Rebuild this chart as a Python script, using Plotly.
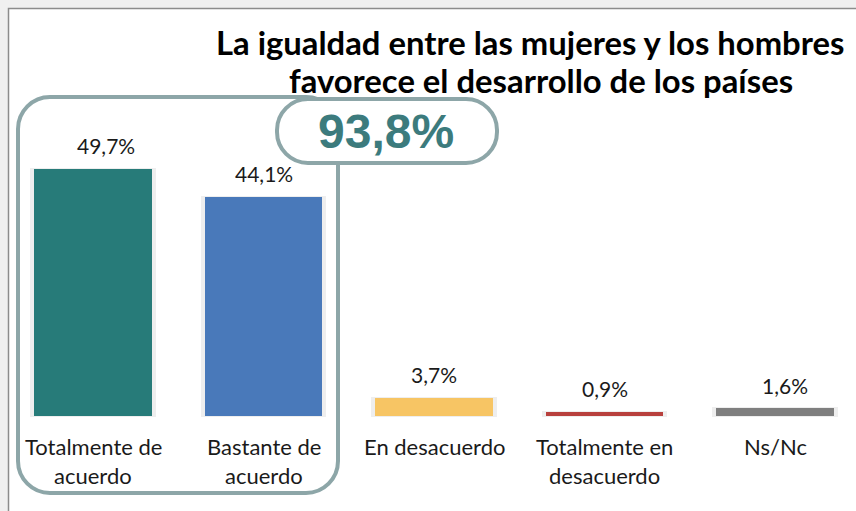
import plotly.graph_objects as go

# ---- data ----
categories = ["Totalmente de<br>acuerdo", "Bastante de<br>acuerdo", "En desacuerdo",
              "Totalmente en<br>desacuerdo", "Ns/Nc"]
values = [49.7, 44.1, 3.7, 0.9, 1.6]
bar_colors = ["#277B79", "#4979BA", "#F7C564", "#B8403D", "#7F7F7F"]
title_lines = ["La igualdad entre las mujeres y los hombres", "favorece el desarrollo de los países"]
label_xshift = [13, 0, 0, 0, 10]

W, H = 856, 511


def PX(x):
    return x / W


def PY(y):
    return 1 - y / H


def fmt(v):
    return f"{v:.1f}".replace(".", ",") + "%"


def rounded_rect(x0, y0, x1, y1, r):
    k = 0.5523 * r
    pts = [
        ("M", [(x0 + r, y0)]),
        ("L", [(x1 - r, y0)]),
        ("C", [(x1 - r + k, y0), (x1, y0 + r - k), (x1, y0 + r)]),
        ("L", [(x1, y1 - r)]),
        ("C", [(x1, y1 - r + k), (x1 - r + k, y1), (x1 - r, y1)]),
        ("L", [(x0 + r, y1)]),
        ("C", [(x0 + r - k, y1), (x0, y1 - r + k), (x0, y1 - r)]),
        ("L", [(x0, y0 + r)]),
        ("C", [(x0, y0 + r - k), (x0 + r - k, y0), (x0 + r, y0)]),
    ]
    s = ""
    for cmd, ps in pts:
        s += cmd + " " + " ".join(f"{PX(a):.5f},{PY(b):.5f}" for a, b in ps) + " "
    return s + "Z"


xs = list(range(len(categories)))

fig = go.Figure()
# soft shadow behind the bars
fig.add_trace(go.Bar(
    x=xs, y=values, width=0.722,
    marker=dict(color="#EEEEEE", line=dict(width=2, color="#EEEEEE")),
    hoverinfo="skip",
))
fig.add_trace(go.Bar(
    x=xs, y=values, width=0.692,
    marker=dict(color=bar_colors, line=dict(width=0)),
    hoverinfo="skip",
))

annotations = []
# data labels
for i, v in enumerate(values):
    annotations.append(dict(
        x=i, y=v, xref="x", yref="y", text=fmt(v), showarrow=False,
        xanchor="center", yanchor="middle", yshift=23, xshift=label_xshift[i],
        font=dict(family="Lato", size=21, color="#1a1a1a"),
    ))
# category labels
for i, c in enumerate(categories):
    for j, line in enumerate(c.split("<br>")):
        annotations.append(dict(
            x=i, y=PY(446 + 29 * j), xref="x", yref="paper", text=line, showarrow=False,
            xanchor="center", yanchor="middle",
            font=dict(family="Lato", size=22, color="#1a1a1a"),
        ))
# title
for j, line in enumerate(title_lines):
    annotations.append(dict(
        x=PX(530 + 11 * j), y=PY(42 + 39 * j), xref="paper", yref="paper", text=line, showarrow=False,
        xanchor="center", yanchor="middle",
        font=dict(family="Lato", size=32.8, color="#000000", weight="bold"),
    ))
# total
total = values[0] + values[1]
annotations.append(dict(
    x=PX(386), y=PY(131), xref="paper", yref="paper", text=fmt(total), showarrow=False,
    xanchor="center", yanchor="middle",
    font=dict(family="Liberation Sans", size=48, color="#3C7B7D", weight="bold"),
))

frame = "#8DA6A8"
shapes = [
    dict(type="rect", xref="paper", yref="paper", x0=PX(8.5), x1=1.02, y0=-0.02, y1=PY(8.5),
         fillcolor="white", line=dict(color="#8C8C8C", width=1.5), layer="below"),
    dict(type="path", xref="paper", yref="paper", path=rounded_rect(18, 97, 338, 493, 32),
         line=dict(color=frame, width=4), fillcolor="rgba(0,0,0,0)"),
    dict(type="path", xref="paper", yref="paper", path=rounded_rect(277, 99, 497, 163, 31),
         line=dict(color=frame, width=4), fillcolor="white"),
]

# axis ranges so that bars land on the chart's pixel grid
px_per_cat = 170.5
x0 = -93 / px_per_cat
x1 = x0 + W / px_per_cat
px_per_pct = 4.97
y0 = -(H - 416) / px_per_pct
y1 = 416 / px_per_pct

fig.update_layout(
    width=W, height=H,
    margin=dict(l=0, r=0, t=0, b=0, pad=0),
    paper_bgcolor="#F0F0F0", plot_bgcolor="rgba(0,0,0,0)",
    xaxis=dict(range=[x0, x1], visible=False, fixedrange=True),
    yaxis=dict(range=[y0, y1], visible=False, fixedrange=True),
    showlegend=False, bargap=0, barmode="overlay",
    annotations=annotations, shapes=shapes,
)

fig.write_html(
    "out.html",
    config={"displayModeBar": False},
    post_script="document.body.style.margin='0';document.body.style.overflow='hidden';",
)
